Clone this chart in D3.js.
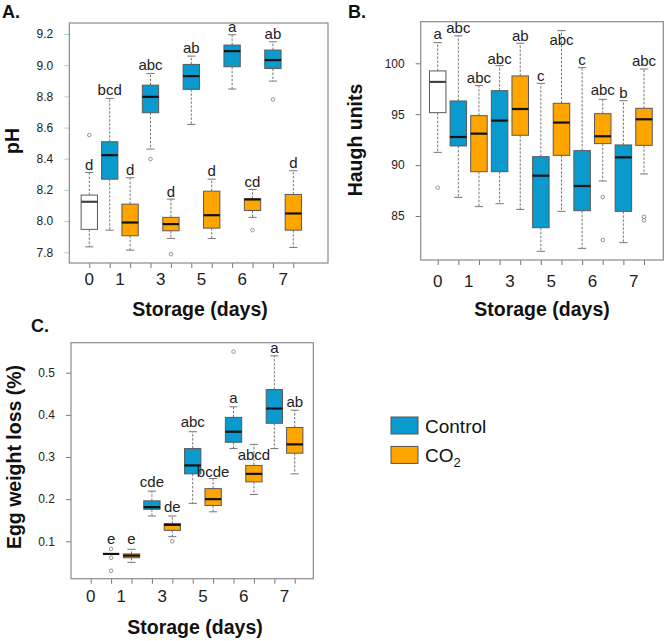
<!DOCTYPE html>
<html><head><meta charset="utf-8">
<script src="https://cdn.jsdelivr.net/npm/d3@7"></script>
<style>body{margin:0;background:#fff} svg{display:block;font-family:Arial,"Liberation Sans",sans-serif}</style>
</head><body><svg id="c" width="666" height="641"></svg>
<script>
// ---------- DATA ----------
const dayLabels = ["0", "1", "3", "5", "6", "7"];
const dayLabelPos = [1, 2.5, 4.5, 6.5, 8.5, 10.5];
const groups = ["Day 0", "Control", "CO2", "Control", "CO2", "Control", "CO2", "Control", "CO2", "Control", "CO2"];
const legendItems = ["Control", "CO2"];

// Panel A: pH
const pHTicks = [7.8, 8.0, 8.2, 8.4, 8.6, 8.8, 9.0, 9.2];
const pHLow  = [7.835, 7.942, 7.814, 8.462, 7.889, 8.62, 7.889, 8.847, 8.024, 8.898, 7.831];
const pHQ1   = [7.947, 8.269, 7.906, 8.695, 7.938, 8.845, 7.955, 8.99, 8.068, 8.979, 7.942];
const pHMed  = [8.124, 8.423, 7.991, 8.797, 7.981, 8.93, 8.038, 9.09, 8.139, 9.033, 8.049];
const pHQ3   = [8.167, 8.509, 8.109, 8.872, 8.024, 9.005, 8.192, 9.129, 8.143, 9.097, 8.171];
const pHHigh = [8.312, 8.787, 8.278, 8.947, 8.141, 9.058, 8.269, 9.195, 8.203, 9.15, 8.323];
const pHOut  = [[8.552], [], [], [8.398], [7.788], [], [], [], [7.942], [8.78], []];
const pHLetters = ["d", "bcd", "d", "abc", "d", "ab", "d", "a", "cd", "ab", "d"];
const pHLetterAt = [8.331, 8.808, 8.295, 8.969, 8.156, 9.078, 8.289, 9.214, 8.216, 9.167, 8.338];

// Panel B: Haugh units
const huTicks = [85, 90, 95, 100];
const huLow  = [91.25, 86.83, 85.92, 86.21, 85.65, 81.53, 85.46, 81.82, 88.44, 82.38, 89.13];
const huQ1   = [95.15, 91.88, 89.35, 89.35, 92.93, 83.85, 90.96, 85.52, 92.11, 85.46, 91.94];
const huMed  = [98.17, 92.76, 93.09, 94.37, 95.51, 88.96, 94.18, 87.95, 92.83, 90.76, 94.5];
const huQ3   = [99.25, 96.3, 94.86, 97.31, 98.76, 90.83, 96.07, 91.42, 95.05, 91.98, 95.58];
const huHigh = [102.03, 102.69, 97.81, 99.77, 101.97, 98.03, 103.21, 99.57, 96.46, 96.33, 99.44];
const huOut  = [[87.78], [], [], [], [], [], [], [], [86.87, 82.64], [], [84.93, 84.57]];
const huLetters = ["a", "abc", "abc", "abc", "ab", "c", "abc", "c", "abc", "b", "abc"];
const huLetterAt = [102.36, 102.95, 98.03, 99.93, 102.23, 98.3, 101.8, 99.84, 96.86, 96.56, 99.77];

// Panel C: Egg weight loss (%)
const wlTicks = [0.1, 0.2, 0.3, 0.4, 0.5];
const wlLow  = [null, 0.07, 0.05, 0.16, 0.111, 0.19, 0.17, 0.32, 0.211, 0.32, 0.26];
const wlQ1   = [null, 0.07, 0.061, 0.176, 0.126, 0.26, 0.185, 0.335, 0.241, 0.38, 0.309];
const wlMed  = [null, 0.07, 0.066, 0.181, 0.139, 0.28, 0.2, 0.36, 0.26, 0.415, 0.33];
const wlQ3   = [null, 0.07, 0.07, 0.196, 0.142, 0.32, 0.225, 0.394, 0.28, 0.46, 0.37];
const wlHigh = [null, 0.07, 0.081, 0.219, 0.16, 0.36, 0.249, 0.419, 0.33, 0.54, 0.411];
const wlOut  = [[], [0.082, 0.061, 0.03], [], [], [0.1], [], [], [0.55], [], [], []];
const wlLetters = ["", "e", "e", "cde", "de", "abc", "bcde", "a", "abcd", "a", "ab"];
const wlLetterAt = [null, 0.093, 0.093, 0.23, 0.169, 0.372, 0.253, 0.427, 0.294, 0.546, 0.419];

// ---------- STYLE ----------
const fillOf = {"Day 0": "#ffffff", "Control": "#0A9ACD", "CO2": "#FFA500"};
const svg = d3.select("#c");

function panel(cfg) {
  const x = d3.scaleLinear().domain(cfg.xDom).range([cfg.L, cfg.R]);
  const y = d3.scaleLinear().domain(cfg.yDom).range(cfg.yRange);
  const g = svg.append("g");
  const bw = 0.8, cw = 0.4;
  const n = groups.length;
  const idx = d3.range(n);

  // x ticks
  const xAx = d3.axisBottom(x).tickValues(d3.range(1, n + 1)).tickSize(5).tickFormat("");
  const gx = g.append("g").attr("transform", `translate(0,${cfg.B})`).call(xAx);
  gx.select(".domain").remove();
  gx.selectAll("line").attr("stroke", "#777");
  g.selectAll("text.xl").data(dayLabels).join("text")
    .attr("x", (d, i) => x(dayLabelPos[i])).attr("y", cfg.xLabY)
    .attr("text-anchor", "middle").attr("font-size", 17).attr("fill", "#222").text(d => d);

  // y axis
  const yAx = d3.axisLeft(y).tickValues(cfg.ticks).tickSize(5).tickPadding(11)
    .tickFormat(cfg.fmt);
  const gy = g.append("g").attr("transform", `translate(${cfg.L},0)`).call(yAx);
  gy.select(".domain").remove();
  gy.selectAll("line").attr("stroke", cfg.tickCol);
  gy.selectAll("text").attr("font-size", 12).attr("fill", "#222").attr("font-family", "Arial, Liberation Sans, sans-serif");

  // frame
  g.append("rect").attr("x", cfg.L).attr("y", cfg.T).attr("width", cfg.R - cfg.L).attr("height", cfg.B - cfg.T)
    .attr("fill", "none").attr("stroke", "#8a8a8a").attr("stroke-width", 1.2);

  const valid = idx.filter(i => cfg.med[i] != null);
  // whiskers
  valid.forEach(i => {
    const cx = x(i + 1);
    if (cfg.high[i] > cfg.q3[i]) {
      g.append("line").attr("x1", cx).attr("x2", cx).attr("y1", y(cfg.q3[i])).attr("y2", y(cfg.high[i]))
        .attr("stroke", "#777").attr("stroke-dasharray", "2.5,1.5");
      g.append("line").attr("x1", x(i + 1 - cw / 2)).attr("x2", x(i + 1 + cw / 2)).attr("y1", y(cfg.high[i])).attr("y2", y(cfg.high[i]))
        .attr("stroke", "#777");
    }
    if (cfg.low[i] < cfg.q1[i]) {
      g.append("line").attr("x1", cx).attr("x2", cx).attr("y1", y(cfg.q1[i])).attr("y2", y(cfg.low[i]))
        .attr("stroke", "#777").attr("stroke-dasharray", "2.5,1.5");
      g.append("line").attr("x1", x(i + 1 - cw / 2)).attr("x2", x(i + 1 + cw / 2)).attr("y1", y(cfg.low[i])).attr("y2", y(cfg.low[i]))
        .attr("stroke", "#777");
    }
  });
  // boxes
  g.selectAll("rect.box").data(valid).join("rect")
    .attr("x", i => x(i + 1 - bw / 2)).attr("width", i => x(i + 1 + bw / 2) - x(i + 1 - bw / 2))
    .attr("y", i => y(cfg.q3[i])).attr("height", i => Math.max(0, y(cfg.q1[i]) - y(cfg.q3[i])))
    .attr("fill", i => fillOf[groups[i]]).attr("stroke", "#5a5a5a").attr("stroke-width", 1);
  // medians
  g.selectAll("line.med").data(valid).join("line")
    .attr("x1", i => x(i + 1 - bw / 2)).attr("x2", i => x(i + 1 + bw / 2))
    .attr("y1", i => y(cfg.med[i])).attr("y2", i => y(cfg.med[i]))
    .attr("stroke", i => groups[i] === "Day 0" ? "#444" : "#111").attr("stroke-width", 2.2);
  // outliers
  const outs = [];
  cfg.out.forEach((arr, i) => arr.forEach(v => outs.push({i, v})));
  g.selectAll("circle.o").data(outs).join("circle")
    .attr("cx", d => x(d.i + 1)).attr("cy", d => y(d.v)).attr("r", 1.8)
    .attr("fill", "none").attr("stroke", "#888").attr("stroke-width", 0.9);
  // letters
  g.selectAll("text.let").data(valid).join("text")
    .attr("x", i => x(i + 1)).attr("y", i => y(cfg.letAt[i]))
    .attr("text-anchor", "middle").attr("font-size", 15).attr("fill", "#222")
    .text(i => cfg.letters[i]);

  // titles
  g.append("text").attr("x", cfg.xtX).attr("y", cfg.xtY).attr("text-anchor", "middle")
    .attr("font-size", 19.5).attr("font-weight", "bold").attr("fill", "#111").text("Storage (days)");
  g.append("text").attr("transform", `translate(${cfg.ytX},${cfg.ytY}) rotate(-90)`).attr("text-anchor", "middle")
    .attr("font-size", 19.5).attr("font-weight", "bold").attr("fill", "#111").text(cfg.yTitle);
  g.append("text").attr("x", cfg.pX).attr("y", cfg.pY).attr("font-size", 18).attr("font-weight", "bold")
    .attr("fill", "#111").text(cfg.plabel);
}

panel({L: 69.3, R: 328, T: 23, B: 263, xDom: [0.02, 12.7], yDom: [7.8, 9.2], yRange: [252.3, 34],
  ticks: pHTicks, fmt: d3.format(".1f"), tickCol: "#a9d3e0",
  low: pHLow, q1: pHQ1, med: pHMed, q3: pHQ3, high: pHHigh, out: pHOut, letters: pHLetters, letAt: pHLetterAt,
  xLabY: 285, xtX: 200, xtY: 316, ytX: 19, ytY: 141, yTitle: "pH", pX: 2, pY: 18, plabel: "A."});

panel({L: 420.7, R: 663.3, T: 21.7, B: 260, xDom: [0.176, 11.935], yDom: [85, 100], yRange: [216, 63.3],
  ticks: huTicks, fmt: d3.format("d"), tickCol: "#777",
  low: huLow, q1: huQ1, med: huMed, q3: huQ3, high: huHigh, out: huOut, letters: huLetters, letAt: huLetterAt,
  xLabY: 286.5, xtX: 542, xtY: 316, ytX: 362, ytY: 140, yTitle: "Haugh units", pX: 348, pY: 18, plabel: "B."});

panel({L: 71, R: 313.3, T: 342.7, B: 578.7, xDom: [0.034, 11.91], yDom: [0.1, 0.5], yRange: [541.3, 372.7],
  ticks: wlTicks, fmt: d3.format(".1f"), tickCol: "#777",
  low: wlLow, q1: wlQ1, med: wlMed, q3: wlQ3, high: wlHigh, out: wlOut, letters: wlLetters, letAt: wlLetterAt,
  xLabY: 601.5, xtX: 195, xtY: 634, ytX: 21, ytY: 457, yTitle: "Egg weight loss (%)", pX: 31, pY: 332, plabel: "C."});

// legend
const lg = svg.append("g");
const ly = d3.scaleBand().domain(legendItems).range([417, 467]).paddingInner(0.3);
lg.selectAll("rect").data(legendItems).join("rect")
  .attr("x", 391).attr("y", d => ly(d)).attr("width", 27).attr("height", 17)
  .attr("fill", d => fillOf[d]).attr("stroke", "#555").attr("stroke-width", 1);
const lt = lg.selectAll("text").data(legendItems).join("text")
  .attr("x", 425).attr("y", d => ly(d) + 16).attr("font-size", 19).attr("fill", "#111");
lt.filter(d => d === "Control").text("Control");
const co = lt.filter(d => d === "CO2");
co.append("tspan").text("CO");
co.append("tspan").attr("font-size", 13).attr("dy", 5).text("2");
</script></body></html>
